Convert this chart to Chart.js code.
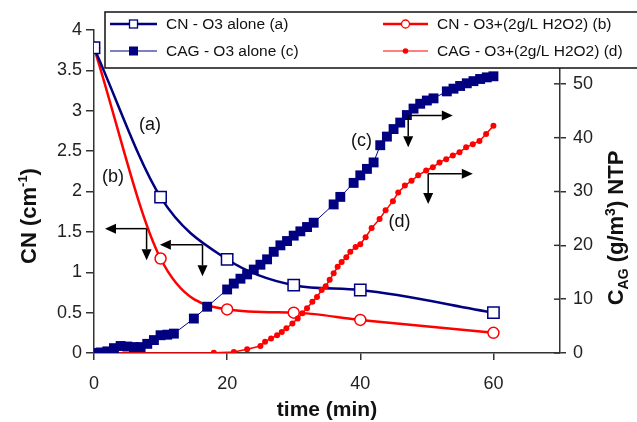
<!DOCTYPE html>
<html><head><meta charset="utf-8">
<script src="https://cdn.jsdelivr.net/npm/chart.js@4/dist/chart.umd.min.js"></script>
<style>html,body{margin:0;padding:0;background:#fff;overflow:hidden}</style>
</head><body>
<canvas id="c" width="637" height="422"></canvas>
<script>
// ---- data ----
const timeCN = [0, 10, 20, 30, 40, 60];
const cnO3 = [3.78, 1.93, 1.16, 0.84, 0.78, 0.50];
const cnO3H2O2 = [3.78, 1.17, 0.54, 0.50, 0.41, 0.25];

const timeCagO3 = [0,1,2,3,4,5,6,7,8,9,10,11,12,15,17,20,21,22,23,24,25,26,27,28,29,30,31,32,33,36,37,39,40,41,42,43,44,45,46,47,48,49,50,51,53,54,55,56,57,58,59,60];
const cagO3 = [0,0.1,0.3,0.9,1.3,1.2,1.1,1.1,1.7,2.4,3.3,3.4,3.6,6.4,8.6,11.8,12.9,13.8,14.6,15.5,16.4,17.4,18.8,20.0,20.8,21.8,22.6,23.4,24.2,27.6,29.0,31.6,33.0,34.2,35.4,38.6,40.2,41.6,42.8,44.2,45.4,46.3,46.9,47.3,48.6,49.1,49.6,50.1,50.5,50.9,51.2,51.4];

const timeCagO3H2O2 = [0,18,21,23,25,25.7,26.6,27.5,28.2,28.9,29.8,30.6,31.3,32,32.8,33.5,34.2,34.8,35.4,36,36.6,37.2,37.9,38.5,39.3,40,40.8,41.7,42.9,43.8,44.9,45.7,46.7,47.7,48.7,49.9,50.9,51.9,52.9,53.9,54.9,55.9,56.9,57.9,58.9,60];
const cagO3H2O2 = [0,0.05,0.2,0.7,1.3,2.1,2.7,3.3,3.9,4.6,5.5,6.4,7.4,8.3,9.5,10.4,11.7,12.4,13.6,14.8,16.0,16.9,17.8,18.8,19.7,20.2,21.5,23.2,24.9,26.5,28.2,29.8,31.1,32.0,33.0,33.9,34.5,35.4,36.0,36.7,37.3,38.2,38.8,39.4,40.7,42.2];

const xTickValues = [0, 20, 40, 60];
const legendLabels = ['CN - O3 alone (a)', 'CAG - O3 alone (c)', 'CN - O3+(2g/L H2O2) (b)', 'CAG - O3+(2g/L H2O2) (d)'];
const curveLabels = [
  {text:'(a)', x:8.4, y:2.82, axis:'y'},
  {text:'(b)', x:2.85, y:2.18, axis:'y'},
  {text:'(c)', x:40.2, y:39.4, axis:'y2'},
  {text:'(d)', x:45.9, y:24.3, axis:'y2'}
];
// arrows: vertex (vx,vy), horizontal tip x = hx, vertical tip y = dy
const arrowMarks = [
  {axis:'y',  vx:7.9,  vy:1.54, hx:1.65, dy:1.15},
  {axis:'y',  vx:16.3, vy:1.34, hx:9.9,  dy:0.95},
  {axis:'y2', vx:47.2, vy:44.1, hx:53.9, dy:38.2},
  {axis:'y2', vx:50.2, vy:33.3, hx:56.9, dy:27.7}
];

const NAVY = '#000080', RED = '#ff0000', AX = '#333333';
const FONT = '"Liberation Sans", Arial, Helvetica, sans-serif';
const pts = (xs, ys) => xs.map((x, i) => ({x, y: ys[i]}));

function arrowHead(ctx, x1, y1, x2, y2) {
  const ang = Math.atan2(y2 - y1, x2 - x1), L = 11, W = 5;
  ctx.beginPath();
  ctx.moveTo(x1, y1); ctx.lineTo(x2 - L * Math.cos(ang), y2 - L * Math.sin(ang)); ctx.stroke();
  ctx.beginPath();
  ctx.moveTo(x2, y2);
  ctx.lineTo(x2 - L * Math.cos(ang) + W * Math.sin(ang), y2 - L * Math.sin(ang) - W * Math.cos(ang));
  ctx.lineTo(x2 - L * Math.cos(ang) - W * Math.sin(ang), y2 - L * Math.sin(ang) + W * Math.cos(ang));
  ctx.closePath(); ctx.fill();
}

function drawRuns(ctx, runs, cx, cy) {
  let total = 0;
  runs.forEach(r => { ctx.font = `bold ${r.size}px ${FONT}`; r.w = ctx.measureText(r.text).width; total += r.w; });
  ctx.save();
  ctx.translate(cx, cy); ctx.rotate(-Math.PI / 2);
  ctx.fillStyle = '#111'; ctx.textBaseline = 'alphabetic'; ctx.textAlign = 'left';
  let x = -total / 2;
  runs.forEach(r => { ctx.font = `bold ${r.size}px ${FONT}`; ctx.fillText(r.text, x, r.dy || 0); x += r.w; });
  ctx.restore();
}

const decor = {
  id: 'decor',
  afterDatasetsDraw(chart) {
    const ctx = chart.ctx, xs = chart.scales.x;
    ctx.save();
    const y2 = chart.scales.y2;
    ctx.strokeStyle = AX; ctx.lineWidth = 1.5;
    y2.ticks.forEach(t => { const py = y2.getPixelForValue(t.value); ctx.beginPath(); ctx.moveTo(y2.left - 6, py); ctx.lineTo(y2.left, py); ctx.stroke(); });
    ctx.strokeStyle = '#000'; ctx.fillStyle = '#000'; ctx.lineWidth = 1.5;
    arrowMarks.forEach(a => {
      const ys = chart.scales[a.axis];
      const vx = xs.getPixelForValue(a.vx), vy = ys.getPixelForValue(a.vy);
      arrowHead(ctx, vx, vy, xs.getPixelForValue(a.hx), vy);
      arrowHead(ctx, vx, vy, vx, ys.getPixelForValue(a.dy));
    });
    ctx.fillStyle = '#111'; ctx.font = `18px ${FONT}`; ctx.textAlign = 'center'; ctx.textBaseline = 'middle';
    curveLabels.forEach(l => ctx.fillText(l.text, xs.getPixelForValue(l.x), chart.scales[l.axis].getPixelForValue(l.y)));
    ctx.restore();
  },
  afterDraw(chart) {
    const ctx = chart.ctx;
    ctx.save();
    ctx.fillStyle = '#fff'; ctx.fillRect(105, 12, 540, 56);
    ctx.strokeStyle = '#111'; ctx.lineWidth = 1.5; ctx.strokeRect(105, 12, 540, 56);
    const rows = [24, 51];
    const entries = [
      {x0:110, x1:157, y:rows[0], color:NAVY, lw:2.5, shape:'sq', fill:false, text:legendLabels[0]},
      {x0:110, x1:157, y:rows[1], color:NAVY, lw:1, shape:'sq', fill:true, text:legendLabels[1]},
      {x0:383, x1:428, y:rows[0], color:RED, lw:2.5, shape:'ci', fill:false, text:legendLabels[2]},
      {x0:383, x1:428, y:rows[1], color:RED, lw:1, shape:'dot', fill:true, text:legendLabels[3]}
    ];
    entries.forEach(e => {
      ctx.strokeStyle = e.color; ctx.lineWidth = e.lw;
      ctx.beginPath(); ctx.moveTo(e.x0, e.y); ctx.lineTo(e.x1, e.y); ctx.stroke();
      const cx = (e.x0 + e.x1) / 2;
      ctx.lineWidth = 1.3;
      if (e.shape === 'sq') {
        const s = e.fill ? 9 : 8;
        ctx.fillStyle = e.fill ? e.color : '#fff';
        ctx.fillRect(cx - s / 2, e.y - s / 2, s, s);
        if (!e.fill) ctx.strokeRect(cx - s / 2, e.y - s / 2, s, s);
      } else if (e.shape === 'ci') {
        ctx.fillStyle = '#fff'; ctx.beginPath(); ctx.arc(cx, e.y, 4, 0, Math.PI * 2); ctx.fill(); ctx.stroke();
      } else {
        ctx.fillStyle = e.color; ctx.beginPath(); ctx.arc(cx, e.y, 2.8, 0, Math.PI * 2); ctx.fill();
      }
      ctx.fillStyle = '#111'; ctx.font = `15.5px ${FONT}`; ctx.textAlign = 'left'; ctx.textBaseline = 'middle';
      ctx.fillText(e.text, e.x1 + 9, e.y + 1);
    });
    drawRuns(ctx, [{text:'CN (cm', size:22}, {text:'-1', size:13, dy:-9}, {text:')', size:22}], 36, 216);
    drawRuns(ctx, [{text:'C', size:22}, {text:'AG', size:14, dy:5}, {text:' (g/m', size:22}, {text:'3', size:14, dy:-8}, {text:') NTP', size:22}], 623, 228);
    ctx.font = `bold 21px ${FONT}`; ctx.fillStyle = '#111'; ctx.textAlign = 'center'; ctx.textBaseline = 'middle';
    ctx.fillText('time (min)', chart.scales.x.getPixelForValue(35), 410);
    ctx.restore();
  }
};

const tickFont = {family: FONT, size: 18};
const plainNum = v => String(Math.round(v * 100) / 100);
new Chart(document.getElementById('c'), {
  type: 'line',
  data: {
    datasets: [
      {data: pts(timeCagO3, cagO3), yAxisID:'y2', borderColor:NAVY, borderWidth:1, backgroundColor:NAVY,
       pointStyle:'rect', pointRadius:7, pointBorderWidth:0, tension:0},
      {data: pts(timeCagO3H2O2, cagO3H2O2), yAxisID:'y2', borderColor:RED, borderWidth:1.5, backgroundColor:RED,
       pointStyle:'circle', pointRadius:3, pointBorderWidth:0, tension:0},
      {data: pts(timeCN, cnO3), yAxisID:'y', borderColor:NAVY, borderWidth:2.5, backgroundColor:'#fff',
       pointStyle:'rect', pointRadius:8, pointBorderWidth:1.5, pointBorderColor:NAVY, cubicInterpolationMode:'monotone', tension:0.4},
      {data: pts(timeCN, cnO3H2O2), yAxisID:'y', borderColor:RED, borderWidth:2.5, backgroundColor:'#fff',
       pointStyle:'circle', pointRadius:5.5, pointBorderWidth:1.5, pointBorderColor:RED, cubicInterpolationMode:'monotone', tension:0.4}
    ]
  },
  options: {
    responsive: false, animation: false, devicePixelRatio: 1,
    layout: {padding: {top: 30, left: 0, right: 0, bottom: 0}},
    plugins: {legend: {display: false}, tooltip: {enabled: false}},
    scales: {
      x: {type:'linear', min:0, max:70,
          afterBuildTicks: s => { s.ticks = xTickValues.map(v => ({value: v})); },
          afterFit: s => { s.height = 69; },
          grid: {drawOnChartArea:false, tickLength:7, color:AX, lineWidth:1.5},
          border: {color:AX, width:1.5},
          ticks: {font: tickFont, color:'#222', padding:13, maxRotation:0, callback: plainNum}},
      y: {type:'linear', position:'left', min:0, max:4,
          afterFit: s => { s.width = 94; },
          grid: {drawOnChartArea:false, tickLength:8, color:AX, lineWidth:1.5},
          border: {color:AX, width:1.5},
          ticks: {stepSize:0.5, font: tickFont, color:'#222', padding:4, callback: plainNum}},
      y2: {type:'linear', position:'right', min:0, max:60,
          afterFit: s => { s.width = 77; },
          grid: {drawOnChartArea:false, tickLength:6, color:AX, lineWidth:1.5},
          border: {color:AX, width:1.5},
          ticks: {stepSize:10, font: tickFont, color:'#222', padding:7, callback: plainNum}}
    }
  },
  plugins: [decor]
});
</script>
</body></html>
